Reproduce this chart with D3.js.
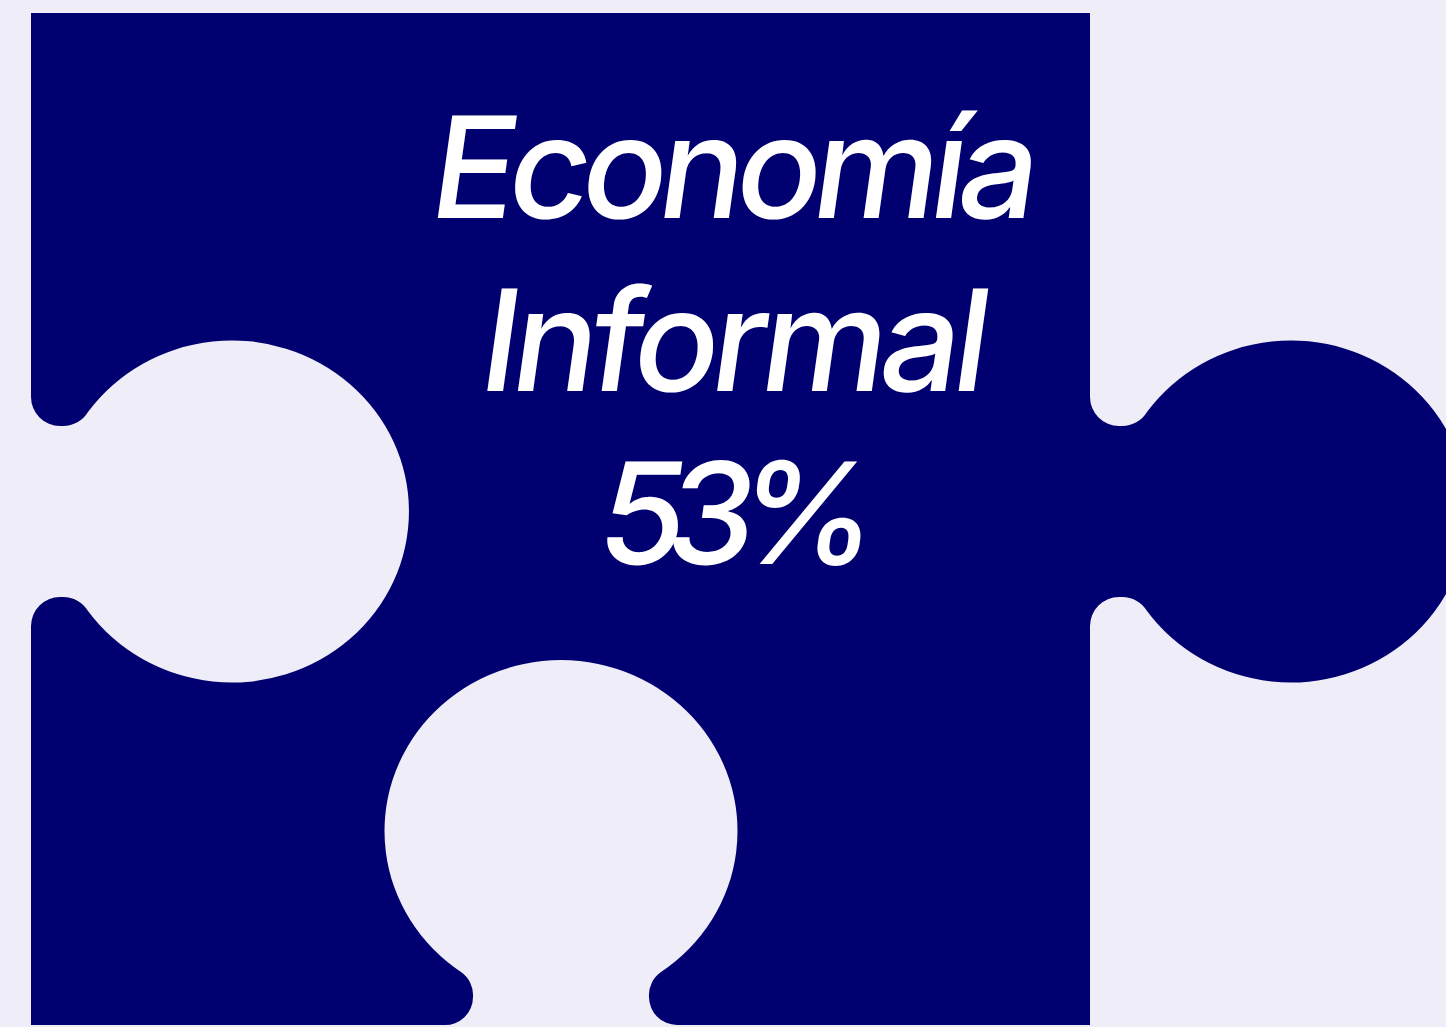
<!DOCTYPE html>
<html>
<head>
<meta charset="utf-8">
<script src="https://cdn.jsdelivr.net/npm/d3@7"></script>
<style>
html, body { margin: 0; padding: 0; background: #efedf7; overflow: hidden; }
</style>
</head>
<body>
<script>
// the labels and the one value of the chart
var labelLines = ["Economía", "Informal"];
var shareValues = [53];

var width = 1446, height = 1027;

var svg = d3.select("body").append("svg")
    .attr("width", width)
    .attr("height", height)
    .style("display", "block");

// the puzzle piece is laid out on a unit grid of its own
var xScale = d3.scaleLinear().domain([0, 1059]).range([31, 1090]);
var yScale = d3.scaleLinear().domain([0, 1012]).range([13, 1025]);

function pt(x, y) { return xScale(x) + "," + yScale(y); }

var r = 29;

var piece = "M" + pt(0, 0)
    + "L" + pt(1059, 0)
    // right knob
    + "L" + pt(1059, 384)
    + "A" + r + "," + r + " 0 0 0 " + pt(1088, 413)
    + "L" + pt(1091, 413)
    + "A" + r + "," + r + " 0 0 0 " + pt(1116, 399)
    + "A177,171 0 1 1 " + pt(1116, 598)
    + "A" + r + "," + r + " 0 0 0 " + pt(1091, 584)
    + "L" + pt(1088, 584)
    + "A" + r + "," + r + " 0 0 0 " + pt(1059, 613)
    + "L" + pt(1059, 1012)
    // bottom notch
    + "L" + pt(646, 1012)
    + "A28,28 0 0 1 " + pt(618, 984)
    + "A28,28 0 0 1 " + pt(630, 959)
    + "A176.5,171 0 1 0 " + pt(430, 959)
    + "A28,28 0 0 1 " + pt(442, 984)
    + "A28,28 0 0 1 " + pt(413, 1012)
    + "L" + pt(0, 1012)
    // left notch
    + "L" + pt(0, 613)
    + "A" + r + "," + r + " 0 0 1 " + pt(29, 584)
    + "L" + pt(32, 584)
    + "A" + r + "," + r + " 0 0 1 " + pt(57, 598)
    + "A177,171 0 1 0 " + pt(57, 399)
    + "A" + r + "," + r + " 0 0 1 " + pt(32, 413)
    + "L" + pt(29, 413)
    + "A" + r + "," + r + " 0 0 1 " + pt(0, 384)
    + "Z";

svg.append("path")
    .attr("d", piece)
    .attr("fill", "#000070");

// three centred lines of text inside the piece
var lines = labelLines.concat(shareValues.map(function (d) { return d + "%"; }));
var lineWidths = [607, 508, 278];
var lineCentres = [730, 730, 732.5];

svg.selectAll(".label")
    .data(lines)
    .enter()
    .append("text")
    .attr("class", "label")
    .attr("text-anchor", "middle")
    .attr("transform", function (d, i) {
        return "translate(" + lineCentres[i] + "," + (218 + i * 173) + ") skewX(-8)";
    })
    .attr("textLength", function (d, i) { return lineWidths[i]; })
    .style("fill", "white")
    .style("font-family", "Inter, sans-serif")
    .style("font-weight", 500)
    .style("font-size", "141px")
    .text(function (d) { return d; });
</script>
</body>
</html>
